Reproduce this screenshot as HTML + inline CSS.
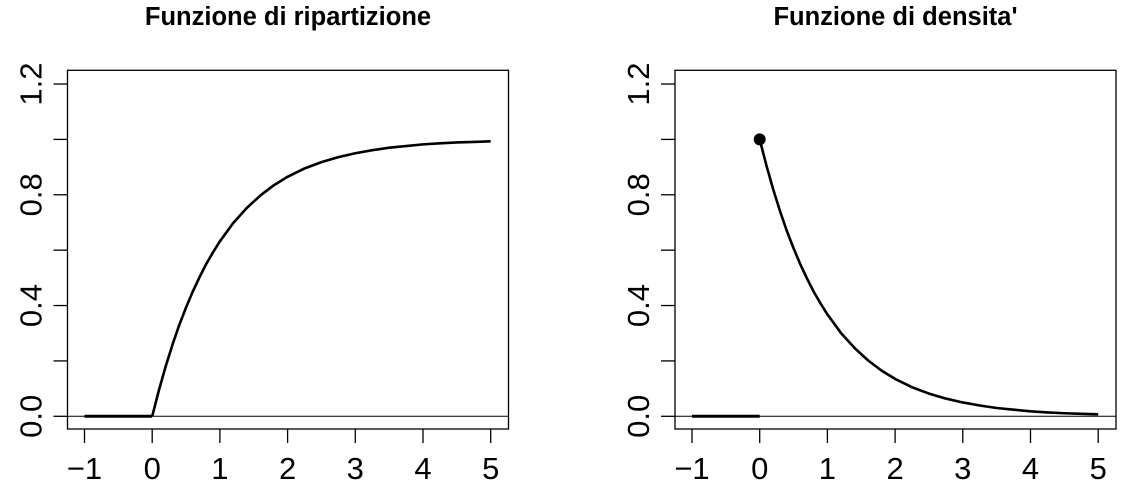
<!DOCTYPE html>
<html><head><meta charset="utf-8"><style>
body{margin:0;background:#fff}
svg{display:block}
text{font-family:"Liberation Sans",sans-serif;fill:#000}
</style></head><body>
<svg id="c" width="1140" height="494"></svg>
<script>
const xTicks=[-1,0,1,2,3,4,5];
const yTicks=[0,0.2,0.4,0.6,0.8,1.0,1.2];
const yTickLabels=["0.0","","0.4","","0.8","","1.2"];
const xs=[0,0.1,0.2,0.3,0.4,0.5,0.6,0.7,0.8,0.9,1,1.2,1.4,1.6,1.8,2,2.25,2.5,2.75,3,3.25,3.5,3.75,4,4.25,4.5,4.75,5];
const cdfVals=[0,0.095,0.181,0.259,0.330,0.393,0.451,0.503,0.551,0.593,0.632,0.699,0.753,0.798,0.835,0.865,0.895,0.918,0.936,0.950,0.961,0.970,0.976,0.982,0.986,0.989,0.991,0.993];
const pdfVals=[1,0.905,0.819,0.741,0.670,0.607,0.549,0.497,0.449,0.407,0.368,0.301,0.247,0.202,0.165,0.135,0.105,0.082,0.064,0.050,0.039,0.030,0.024,0.018,0.014,0.011,0.009,0.007];
const zeroX=[-1,0];const zeroY=[0,0];
const NS="http://www.w3.org/2000/svg";
const svg=document.getElementById('c');
function mk(t,a,p){const e=document.createElementNS(NS,t);for(const k in a)e.setAttribute(k,a[k]);(p||svg).appendChild(e);return e;}
function panel(px0,title,vals,dot,name){
  const g=mk('g',{});
  
  
  const X0=px0+17,U=67.7,Y0=416.3,V=276.9;
  const sx=x=>X0+(x+1)*U, sy=y=>Y0-y*V;
  const L=px0,R=px0+441,T=70.3,B=429;
  const box=mk('rect',{x:L,y:T,width:R-L,height:B-T,fill:'none',stroke:'#000','stroke-width':1.3},g);
  
  
  const t=mk('text',{x:(L+R)/2,y:25,'text-anchor':'middle','font-size':'25.5','font-weight':'bold'},g);
  t.textContent=title;
  
  
  const h=mk('line',{x1:L,x2:R,y1:sy(0),y2:sy(0),stroke:'#000','stroke-width':1},g);
  
  
  xTicks.forEach(v=>{
    mk('line',{x1:sx(v),x2:sx(v),y1:B,y2:B+14,stroke:'#000','stroke-width':1.3},g);
    const l=mk('text',{x:sx(v),y:479,'text-anchor':'middle','font-size':'31'},g);
    l.textContent=v<0?'\u2212'+(-v):String(v);
    
    
  });
  yTicks.forEach((v,i)=>{
    mk('line',{x1:L-14,x2:L,y1:sy(v),y2:sy(v),stroke:'#000','stroke-width':1.3},g);
    if(yTickLabels[i]){
      const l=mk('text',{x:0,y:0,'text-anchor':'middle','font-size':'31',transform:`translate(${L-26},${sy(v)}) rotate(-90)`},g);
      l.textContent=yTickLabels[i];
      
      
    }
  });
  const z=mk('polyline',{points:zeroX.map((x,i)=>sx(x)+','+sy(zeroY[i])).join(' '),fill:'none',stroke:'#000','stroke-width':3},g);
  
  
  const c=mk('polyline',{points:xs.map((x,i)=>sx(x)+','+sy(vals[i])).join(' '),fill:'none',stroke:'#000','stroke-width':2.6,'stroke-linejoin':'round'},g);
  
  
  if(dot){
    const d=mk('circle',{cx:sx(xs[0]),cy:sy(vals[0]),r:6,fill:'#000'},g);
    
    
  }
}
panel(67.5,"Funzione di ripartizione",cdfVals,false,'cdf-panel');
panel(675,"Funzione di densita'",pdfVals,true,'pdf-panel');
</script>
</body></html>
